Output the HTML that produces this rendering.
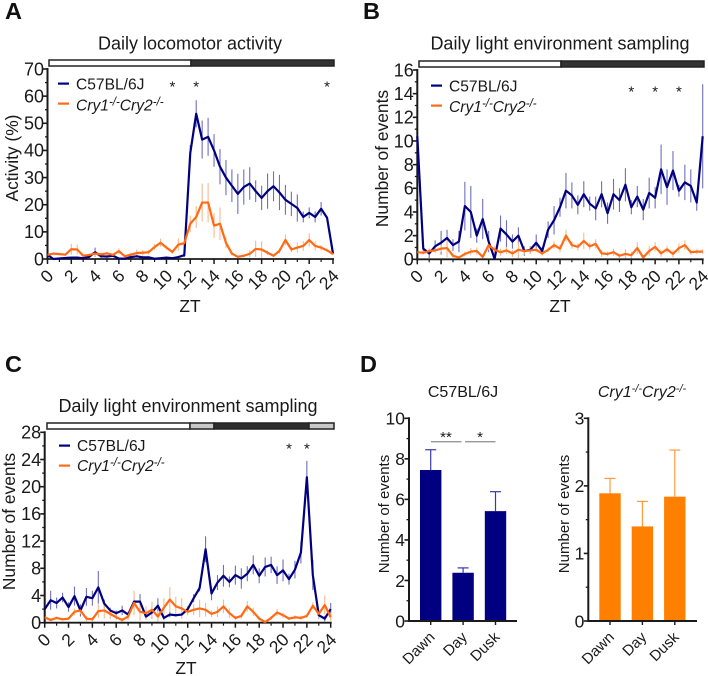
<!DOCTYPE html>
<html lang="en">
<head>
<meta charset="utf-8">
<title>Daily activity and light sampling</title>
<style>
html,body{margin:0;padding:0;background:#fff;width:708px;height:676px;overflow:hidden}
svg{display:block}
text{font-family:"Liberation Sans",sans-serif;fill:#1a1a1a}
.letter{font-size:23.5px;font-weight:bold;fill:#111}
.title{font-size:18px;text-anchor:middle}
.axt{font-size:17.4px;text-anchor:middle}
.leg{font-size:15.6px}
.it{font-style:italic}
.dt{font-size:16px;text-anchor:middle}
</style>
</head>
<body>
<svg id="fig" xmlns="http://www.w3.org/2000/svg" width="708" height="676" viewBox="0 0 708 676">
  <text class="letter" x="5" y="19">A</text>
  <text class="letter" x="363" y="19">B</text>
  <text class="letter" x="5" y="372">C</text>
  <text class="letter" x="360" y="372">D</text>

  <text class="title" x="190" y="49.5">Daily locomotor activity</text>
  <text class="title" x="560" y="49.5">Daily light environment sampling</text>
  <text class="title" x="188" y="412">Daily light environment sampling</text>

  <g stroke="#222" stroke-width="1.5">
    <rect x="49" y="60" width="142" height="6" fill="#fff"/><rect x="191" y="60" width="143" height="6" fill="#333"/>
  </g>
  <g stroke="#222" stroke-width="1.5">
    <rect x="419" y="61" width="142" height="6" fill="#fff"/><rect x="561" y="61" width="143" height="6" fill="#333"/>
  </g>
  <g stroke="#222" stroke-width="1.5">
    <rect x="47" y="423" width="143" height="6" fill="#fff"/><rect x="190" y="423" width="24" height="6" fill="#c8c8c8"/><rect x="214" y="423" width="95" height="6" fill="#2e2e2e"/><rect x="309" y="423" width="25" height="6" fill="#c8c8c8"/>
  </g>

  <text class="axt" transform="translate(18,158) rotate(-90)">Activity (%)</text>
  <text class="axt" transform="translate(388,158.5) rotate(-90)">Number of events</text>
  <text class="axt" transform="translate(15,521.5) rotate(-90)">Number of events</text>
  <text class="axt" x="190" y="312">ZT</text>
  <text class="axt" x="560" y="312">ZT</text>
  <text class="axt" x="186" y="674">ZT</text>

  <g>
    <rect x="58" y="82.5" width="11" height="2.2" fill="#000080"/><text class="leg" x="76" y="89.5">C57BL/6J</text>
    <rect x="58" y="102.5" width="11" height="2.2" fill="#ff6a13"/><text class="leg it" x="76" y="110.5">Cry1<tspan font-size="11.5" dy="-5">-/-</tspan><tspan dy="5">Cry2</tspan><tspan font-size="11.5" dy="-5">-/-</tspan></text>
  </g>
  <g>
    <rect x="431" y="84.5" width="11" height="2.2" fill="#000080"/><text class="leg" x="449" y="91.5">C57BL/6J</text>
    <rect x="431" y="104.5" width="11" height="2.2" fill="#ff6a13"/><text class="leg it" x="449" y="112">Cry1<tspan font-size="11.5" dy="-5">-/-</tspan><tspan dy="5">Cry2</tspan><tspan font-size="11.5" dy="-5">-/-</tspan></text>
  </g>
  <g>
    <rect x="59" y="444.5" width="11" height="2.2" fill="#000080"/><text class="leg" x="77" y="451">C57BL/6J</text>
    <rect x="59" y="464.5" width="11" height="2.2" fill="#ff6a13"/><text class="leg it" x="77" y="471">Cry1<tspan font-size="11.5" dy="-5">-/-</tspan><tspan dy="5">Cry2</tspan><tspan font-size="11.5" dy="-5">-/-</tspan></text>
  </g>

  <text class="dt" x="463" y="397">C57BL/6J</text>
  <text class="dt it" x="642" y="397">Cry1<tspan font-size="11" dy="-5">-/-</tspan><tspan dy="5">Cry2</tspan><tspan font-size="11" dy="-5">-/-</tspan></text>
  <text font-size="15" text-anchor="middle" transform="translate(389,514) rotate(-90)">Number of events</text>
  <text font-size="15" text-anchor="middle" transform="translate(569,514) rotate(-90)">Number of events</text>
  <g>
    <rect x="431" y="441" width="30.5" height="1.4" fill="#999"/>
    <rect x="465" y="441" width="30.5" height="1.4" fill="#999"/>
    <text x="446" y="442" font-size="15" text-anchor="middle">**</text>
    <text x="480" y="442" font-size="15" text-anchor="middle">*</text>
  </g>
</svg>
<script>
const ztTicks = [0,2,4,6,8,10,12,14,16,18,20,22,24];

const aYTicks = [0,10,20,30,40,50,60,70];
const aWt = [1.5,0,0.2,0.4,0.5,0.5,0.3,0.8,2.5,1,0.9,1.2,0.2,0.1,0.7,1,0.6,0.6,0.1,0.3,0.5,0.3,0.7,1.4,39,53.5,44,45,40,34,30,27,24,26.5,27.8,25,22.5,25,26.8,24.5,21.8,20.3,18.8,15.5,17,15.5,18.5,15.2,2];
const aWtErr = [0.5,0.2,0.2,0.3,0.4,0.4,0.2,0.5,1.7,0.6,0.5,0.5,0.2,0.2,0.5,0.5,0.4,0.4,0.2,0.3,0.3,0.2,0.4,0.7,3,5,7,7,6,6.5,6.5,6,7.4,6.5,6,4,4.5,6.5,5.5,6.5,5.5,4.5,5,2,2,2,2.5,0.5,0.5];
const aKo = [1.5,2,1.8,1.6,3.6,3.5,1.2,1.5,2,1.7,2.1,1.5,2.9,1,1.6,2.2,2.3,2.5,4.4,6,4.2,2.6,5.3,5.8,13,15.5,20.8,20.8,12.3,13,6,2,0.8,1.2,1.9,3.7,3.5,2.3,1.2,3,7,3.5,4.2,4.8,7,4.8,4.2,3.2,1.8];
const aKoErr = [0.3,0.3,0.3,0.3,2,1.8,0.5,0.5,1,0.7,0.6,0.5,1,0.5,0.8,1.3,1,0.8,1,1.5,0.7,0.7,2.3,2,3,4,7,7.2,4.5,6,2,0.7,0.4,0.5,1.3,3,3,0.8,0.5,1,2,1,1.8,1.8,2.5,1.7,1,0.7,0.4];
const aStars = [10.5,12.5,23.5];

const bYTicks = [0,2,4,6,8,10,12,14,16];
const bWt = [10.4,0.9,0.5,1.1,1.4,1.8,1.2,1.5,4.5,4,2,3.4,1.5,0.05,2.6,2.1,1.5,2,0.7,0.8,1.4,0.7,2.5,3.3,4.4,5.8,5.4,4.6,5.5,4.7,4.3,5.5,3.9,5.5,5,6.3,4.4,5.3,4.2,5.6,5.2,7.6,6.1,7.5,5.8,6.5,6.2,4.8,10.4];
const bWtErr = [1,0.3,0.4,0.5,1,0.7,0.5,0.9,2.05,2.2,0.6,1.7,0.9,0.1,1.1,1.2,0.6,0.7,0.4,0.3,0.7,0.3,0.7,1.2,0.8,1.5,1.1,0.8,1.1,0.6,1,1.1,0.9,1.3,1,1.4,0.6,0.9,0.9,1.3,0.9,2.1,1.5,1.65,0.5,1.5,1.4,0.7,4.4];
const bKo = [0.6,0.55,0.7,0.75,0.9,0.95,0.3,0.15,0.45,0.65,0.7,0.2,1.2,0.8,0.6,0.75,0.5,0.8,0.7,0.75,0.8,0.5,0.8,1.2,0.9,2,1.2,1.05,1.55,1.1,1.3,0.5,0.45,0.6,0.3,0.45,0.35,0.95,0.15,0.7,1.05,0.5,0.85,0.45,0.95,1.2,0.6,0.65,0.65];
const bKoErr = [0.2,0.15,0.2,0.2,0.3,0.8,0.2,0.1,0.2,0.3,0.3,0.2,0.4,0.3,0.3,0.3,0.3,0.7,0.3,0.3,0.2,0.2,0.2,0.3,0.3,0.5,0.3,0.3,0.7,0.3,0.4,0.3,0.2,0.3,0.2,0.4,0.3,0.5,0.2,0.4,0.4,0.3,0.3,0.3,0.4,0.4,0.2,0.2,0.2];
const bStars = [18,20,22];

const cYTicks = [0,4,8,12,16,20,24,28];
const cWt = [2,3.3,2.9,3.7,2.3,3.9,1.8,3.8,3.6,5.2,2.8,1.8,1.4,1.8,1.2,3.1,3.1,0.9,1.5,2.5,0.7,1.2,1.1,1.2,2,3.6,5.1,10.8,4.3,5.9,6.9,6,7,6.5,7.2,8.5,6.9,8.2,8.5,7,7.7,6.4,7.8,10.3,21.4,7,1.1,0.6,2];
const cWtErr = [0.6,1.4,0.8,0.7,0.7,1.4,0.9,1.3,1.1,2.4,0.6,0.4,0.4,0.7,0.4,0.5,1.1,0.3,0.9,1.1,0.3,0.4,0.2,0.2,0.4,0.6,0.5,1.9,1,1.1,1.6,0.8,1.4,1.5,1.1,1.4,1.1,1.4,1.2,1.3,1.6,0.8,1.3,1.6,2.4,2.2,0.5,0.4,0.9];
const cKo = [0.8,0.4,0.7,0.5,0.6,1.6,1.8,0.6,0.5,1.7,1.8,1.3,0.8,0.4,0.9,2.9,1.6,1.4,1.9,0.9,2.2,3.4,2.4,2.1,1.6,1.9,2.1,1.9,1.3,1.6,2.4,1.4,0.7,1,2.4,1.6,0.6,0.1,0.7,1.5,1.1,0.6,0.8,0.7,1,2.5,1.3,2.6,0.8];
const cKoErr = [0.3,0.2,0.2,0.2,0.2,0.5,0.5,0.4,0.3,1,1.2,0.8,0.4,0.3,0.5,1.8,1.3,1,1.2,0.8,1.4,1.8,1.4,1.5,0.5,0.8,1.3,1,0.5,0.8,1,0.7,0.3,0.4,0.8,0.6,0.3,0.1,0.3,0.5,0.4,0.2,0.3,0.3,0.3,0.5,0.6,1.4,0.6];
const cStars = [20.5,22];

const dCategories = ['Dawn','Day','Dusk'];
const dWtValues = [7.45,2.38,5.42];
const dWtUpper = [8.45,2.62,6.38];
const dKoValues = [1.89,1.4,1.84];
const dKoUpper = [2.11,1.77,2.53];
const dWtTicks = [0,2,4,6,8,10];
const dKoTicks = [0,1,2,3];

const svgNS = 'http://www.w3.org/2000/svg';
const fig = document.getElementById('fig');
function mk(tag, attrs, parent) {
  const n = document.createElementNS(svgNS, tag);
  for (const k in attrs) n.setAttribute(k, attrs[k]);
  (parent || fig).appendChild(n);
  return n;
}

function drawAxisY(g, name, x, yScale, major, minorStep, max, fs, gap) {
  const axis = mk('line', {x1:x, x2:x, y1:yScale(0)+1, y2:yScale(max)-1, stroke:'#1a1a1a', 'stroke-width':2}, g);
  
  
  for (let v = 0; v <= max + 1e-9; v += minorStep) {
    const isMajor = major.indexOf(+v.toFixed(3)) >= 0;
    const tick = mk('line', {x1:x-(isMajor?4.5:2.5), x2:x, y1:yScale(v), y2:yScale(v), stroke:'#1a1a1a', 'stroke-width':isMajor?1.6:1.3}, g);
    
    
  }
  major.forEach(function (v) {
    const label = mk('text', {x:x-gap, y:yScale(v)+6.3, 'text-anchor':'end', 'font-size':fs}, g);
    label.textContent = v;
    
    
  });
}

function drawLinePanel(cfg) {
  const g = mk('g', {});
  
  
  const xScale = function (zt) { return cfg.x0 + (cfg.x24 - cfg.x0) * zt / 24; };
  const yScale = function (v) { return cfg.y0 + (cfg.yTop - cfg.y0) * v / cfg.yMax; };
  const ptX = function (i) { return xScale(i * 24 / (cfg.wt.length - 1)); };

  [[cfg.wt, cfg.wtErr, '#000080', '#6f6fbb', 'wildtype'], [cfg.ko, cfg.koErr, '#ff6a13', '#f9b78e', 'knockout']].forEach(function (s) {
    s[1].forEach(function (e, i) {
      const bar = mk('line', {x1:ptX(i), x2:ptX(i), y1:yScale(Math.max(0, s[0][i]-e)), y2:yScale(s[0][i]+e), stroke:s[3], 'stroke-width':1.1}, g);
      
      
    });
  });

  const xAxis = mk('line', {x1:cfg.x0-1, x2:cfg.x24+1, y1:cfg.y0, y2:cfg.y0, stroke:'#1a1a1a', 'stroke-width':1.8}, g);
  
  
  for (let h = 0; h <= 24; h++) {
    const big = h % 2 === 0;
    const tick = mk('line', {x1:xScale(h), x2:xScale(h), y1:cfg.y0, y2:cfg.y0+(big?5:3), stroke:'#1a1a1a', 'stroke-width':big?1.5:1.2}, g);
    
    
  }
  ztTicks.forEach(function (t) {
    const ex = xScale(t) + 7, ey = cfg.y0 + 18;
    const label = mk('text', {x:ex, y:ey, 'text-anchor':'end', 'font-size':17.5, transform:'rotate(-45 ' + ex + ' ' + ey + ')'}, g);
    label.textContent = t;
    
    
  });
  drawAxisY(g, cfg.name, cfg.x0, yScale, cfg.yTicks, cfg.yMinor, cfg.yMax, 18, 3.5);

  const wtLine = mk('polyline', {points:cfg.wt.map(function (v, i) { return ptX(i) + ',' + yScale(v); }).join(' '), fill:'none', stroke:'#000080', 'stroke-width':2.2, 'stroke-linejoin':'round'}, g);
  
  
  const koLine = mk('polyline', {points:cfg.ko.map(function (v, i) { return ptX(i) + ',' + yScale(v); }).join(' '), fill:'none', stroke:'#ff6a13', 'stroke-width':2.2, 'stroke-linejoin':'round'}, g);
  
  

  cfg.stars.forEach(function (t) {
    const star = mk('text', {x:xScale(t), y:cfg.starY, 'text-anchor':'middle', 'font-size':15}, g);
    star.textContent = '*';
    
    
  });
}

function drawBarPanel(cfg) {
  const g = mk('g', {});
  
  
  const yScale = function (v) { return cfg.y0 + (cfg.yTop - cfg.y0) * v / cfg.yMax; };
  const xBand = function (i) { return cfg.x + 21.7 + i * 32.4; };
  cfg.values.forEach(function (v, i) {
    const cx = xBand(i);
    const stem = mk('line', {x1:cx, x2:cx, y1:yScale(v), y2:yScale(cfg.upper[i]), stroke:cfg.err, 'stroke-width':1.2}, g);
    
    
    const cap = mk('line', {x1:cx-5.5, x2:cx+5.5, y1:yScale(cfg.upper[i]), y2:yScale(cfg.upper[i]), stroke:cfg.err, 'stroke-width':1.2}, g);
    
    
    const bar = mk('rect', {x:cx-10.7, y:yScale(v), width:21.4, height:cfg.y0-yScale(v), fill:cfg.color}, g);
    
    
    const tick = mk('line', {x1:cx, x2:cx, y1:cfg.y0, y2:cfg.y0+4, stroke:'#1a1a1a', 'stroke-width':1.4}, g);
    
    
    const ex = cx + 5, ey = cfg.y0 + 17;
    const label = mk('text', {x:ex, y:ey, 'text-anchor':'end', 'font-size':15, transform:'rotate(-45 ' + ex + ' ' + ey + ')'}, g);
    label.textContent = dCategories[i];
    
    
  });
  const xAxis = mk('line', {x1:cfg.x-1, x2:cfg.xEnd, y1:cfg.y0, y2:cfg.y0, stroke:'#1a1a1a', 'stroke-width':2}, g);
  
  
  drawAxisY(g, cfg.name, cfg.x, yScale, cfg.ticks, cfg.minor, cfg.yMax, 17.5, 4);
}

drawLinePanel({name:'panel-a-chart', x0:47.5, x24:333, y0:259, yTop:69, yMax:70, yTicks:aYTicks, yMinor:5, wt:aWt, wtErr:aWtErr, ko:aKo, koErr:aKoErr, stars:aStars, starY:91.5});
drawLinePanel({name:'panel-b-chart', x0:417.3, x24:702.7, y0:259.3, yTop:70, yMax:16, yTicks:bYTicks, yMinor:1, wt:bWt, wtErr:bWtErr, ko:bKo, koErr:bKoErr, stars:bStars, starY:96.5});
drawLinePanel({name:'panel-c-chart', x0:44.7, x24:330.7, y0:622.7, yTop:432.3, yMax:28, yTicks:cYTicks, yMinor:2, wt:cWt, wtErr:cWtErr, ko:cKo, koErr:cKoErr, stars:cStars, starY:453.5});
drawBarPanel({name:'panel-d-wildtype-chart', x:409, xEnd:517, y0:621, yTop:418.3, yMax:10, ticks:dWtTicks, minor:1, values:dWtValues, upper:dWtUpper, color:'#000080', err:'#3a3aa6'});
drawBarPanel({name:'panel-d-knockout-chart', x:588.3, xEnd:697, y0:621, yTop:418.3, yMax:3, ticks:dKoTicks, minor:0.5, values:dKoValues, upper:dKoUpper, color:'#ff8000', err:'#ff9a3c'});
</script>
</body>
</html>
